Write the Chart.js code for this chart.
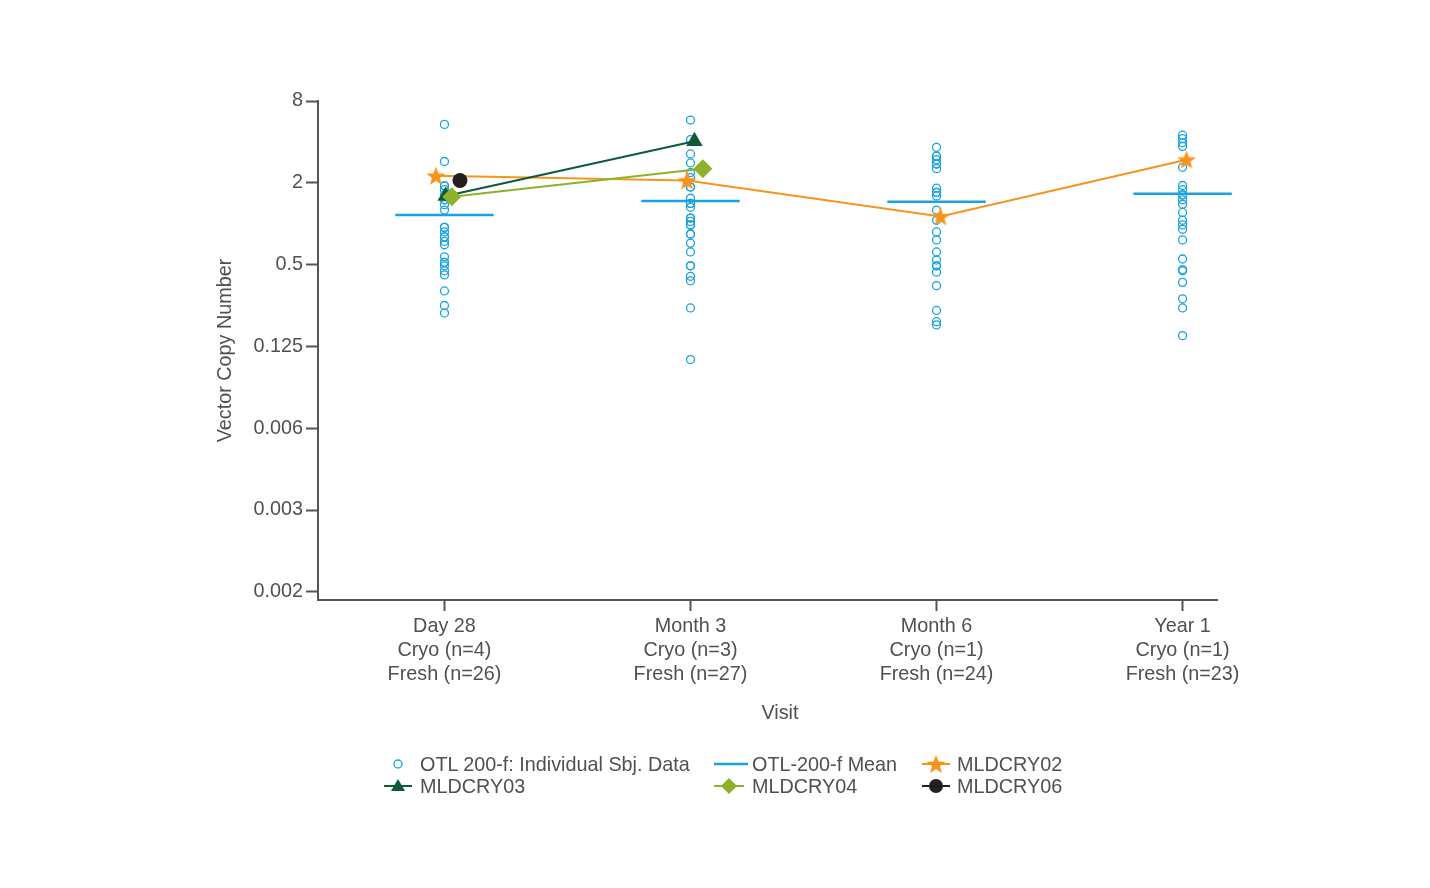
<!DOCTYPE html>
<html><head><meta charset="utf-8">
<script src="https://cdn.jsdelivr.net/npm/chart.js@4.4.1/dist/chart.umd.min.js"></script>
<style>
html,body{margin:0;padding:0;background:#fff;}
#wrap{position:relative;width:1430px;height:888px;}
canvas{position:absolute;left:0;top:0;}
.t{position:absolute;font-family:'Liberation Sans',Arial,sans-serif;font-size:19.8px;color:#505050;line-height:24px;white-space:nowrap;}
svg{position:absolute;left:0;top:0;}
</style></head><body>
<div id="wrap"><canvas id="c" width="1430" height="888"></canvas>
<svg id="leg" width="1430" height="888"></svg>
</div>
<script>
// ---- data ----
const visits = ['Day 28', 'Month 3', 'Month 6', 'Year 1'];
const cryoN = [4, 3, 1, 1];
const freshN = [26, 27, 24, 23];
const yTickLabels = ['8', '2', '0.5', '0.125', '0.006', '0.003', '0.002'];
const yTickLog2 = [3, 1, -1, -3, -5, -7, -9];

const indivDay28 = [5.38, 2.87, 1.90, 1.90, 1.78, 1.63, 1.50, 1.50, 1.38, 1.26, 0.94, 0.94, 0.87, 0.80, 0.80, 0.74, 0.70, 0.57, 0.52, 0.52, 0.49, 0.45, 0.42, 0.32, 0.25, 0.22];
const indivMonth3 = [5.79, 4.16, 3.26, 2.80, 2.38, 2.18, 1.86, 1.86, 1.54, 1.41, 1.41, 1.32, 1.10, 1.10, 1.04, 0.98, 0.98, 0.84, 0.84, 0.72, 0.62, 0.49, 0.49, 0.41, 0.38, 0.24, 0.10];
const indivMonth6 = [3.65, 3.14, 3.14, 2.96, 2.75, 2.75, 2.54, 1.83, 1.70, 1.70, 1.60, 1.26, 1.06, 0.87, 0.76, 0.62, 0.54, 0.49, 0.49, 0.44, 0.35, 0.23, 0.19, 0.18];
const indivYear1 = [4.48, 4.23, 3.94, 3.71, 2.60, 1.91, 1.78, 1.63, 1.63, 1.50, 1.39, 1.21, 1.06, 0.98, 0.91, 0.76, 0.55, 0.46, 0.45, 0.37, 0.28, 0.24, 0.15];
const meanVCN = [1.16, 1.47, 1.45, 1.66];

const mldcry02 = [2.25, 2.08, 1.13, 2.96];
const mldcry03 = [1.60, 4.05, null, null];
const mldcry04 = [1.58, 2.54, null, null];
const mldcry06 = [2.08, null, null, null];

const seriesNames = ['OTL 200-f: Individual Sbj. Data', 'OTL-200-f Mean', 'MLDCRY02', 'MLDCRY03', 'MLDCRY04', 'MLDCRY06'];

// ---- styles ----
const BLUE = '#17a3dd', ORANGE = '#f7941d', DGREEN = '#0b5a38', LGREEN = '#8db12a', BLACK = '#231f20';
const TEXT = '#505050', AXIS = '#555555';
const FONT = "'Liberation Sans', Arial, sans-serif";
const FS = 19.8;
const jit02 = [-0.035, -0.014, 0.016, 0.016];
const jit03 = [0.005, 0.016, 0, 0];
const jit04 = [0.03, 0.05, 0, 0];
const jit06 = [0.063, 0, 0, 0];
const MEAN_HALF = 0.2;

const lg = v => Math.log2(v);
const indiv = [indivDay28, indivMonth3, indivMonth6, indivYear1];
const indivPts = [];
indiv.forEach((arr, i) => arr.forEach(v => indivPts.push({x: i, y: lg(v)})));
const meanPts = [];
meanVCN.forEach((v, i) => { meanPts.push({x: i - MEAN_HALF, y: lg(v)}, {x: i + MEAN_HALF, y: lg(v)}, {x: i + 0.5, y: null}); });
const cryoPts = (arr, jit) => arr.map((v, i) => v == null ? null : {x: i + jit[i], y: lg(v)}).filter(p => p);

function starPath(ctx, cx, cy, R, r) {
  ctx.beginPath();
  for (let k = 0; k < 10; k++) {
    const rad = k % 2 === 0 ? R : r;
    const a = -Math.PI / 2 + k * Math.PI / 5;
    const x = cx + rad * Math.cos(a), y = cy + rad * Math.sin(a);
    k === 0 ? ctx.moveTo(x, y) : ctx.lineTo(x, y);
  }
  ctx.closePath();
}
const starCanvas = document.createElement('canvas');
starCanvas.width = 22; starCanvas.height = 22;
{ const sc = starCanvas.getContext('2d'); sc.fillStyle = ORANGE; starPath(sc, 11, 11.8, 10, 4.2); sc.fill(); }

const tickLabels = visits.map((v, i) => [v, 'Cryo (n=' + cryoN[i] + ')', 'Fresh (n=' + freshN[i] + ')']);

new Chart(document.getElementById('c'), {
  type: 'scatter',
  data: {
    datasets: [
      {label: seriesNames[0], data: indivPts, showLine: false, pointStyle: 'circle', pointRadius: 4, pointBorderWidth: 1.3, pointBorderColor: BLUE, pointBackgroundColor: 'rgba(0,0,0,0)', order: 6},
      {label: seriesNames[1], data: meanPts, showLine: true, spanGaps: false, borderColor: BLUE, borderWidth: 2.5, pointRadius: 0, clip: false, order: 5},
      {label: seriesNames[2], data: cryoPts(mldcry02, jit02), showLine: true, borderColor: ORANGE, borderWidth: 2, pointStyle: starCanvas, pointRadius: 9, order: 4},
      {label: seriesNames[3], data: cryoPts(mldcry03, jit03), showLine: true, borderColor: DGREEN, borderWidth: 2, pointStyle: 'triangle', pointRadius: 9.5, pointBackgroundColor: DGREEN, pointBorderColor: DGREEN, pointBorderWidth: 0, order: 3},
      {label: seriesNames[4], data: cryoPts(mldcry04, jit04), showLine: true, borderColor: LGREEN, borderWidth: 2, pointStyle: 'rectRot', pointRadius: 9.5, pointBackgroundColor: LGREEN, pointBorderColor: LGREEN, pointBorderWidth: 0, order: 2},
      {label: seriesNames[5], data: cryoPts(mldcry06, jit06), showLine: true, borderColor: BLACK, borderWidth: 2, pointStyle: 'circle', pointRadius: 7.5, pointBackgroundColor: BLACK, pointBorderColor: BLACK, pointBorderWidth: 0, order: 1}
    ]
  },
  options: {
    responsive: false, animation: false, events: [],
    layout: {padding: {left: 210, right: 213, top: 101, bottom: 0}},
    plugins: {legend: {display: false}, tooltip: {enabled: false}},
    scales: {
      x: {
        type: 'linear', min: -0.514, max: 3.14,
        afterBuildTicks: s => { s.ticks = visits.map((v, i) => ({value: i})); },
        afterFit: s => { s.height = 288; },
        grid: {display: true, drawOnChartArea: false, drawTicks: true, tickLength: 11, tickColor: AXIS, tickWidth: 2},
        border: {display: true, color: AXIS, width: 2},
        ticks: {color: TEXT, padding: 4, autoSkip: false, maxRotation: 0, font: {family: FONT, size: FS, lineHeight: 1.21},
          callback: (val) => tickLabels[Math.round(val)]}
      },
      y: {
        type: 'linear', min: -9.2, max: 3,
        afterBuildTicks: s => { s.ticks = yTickLog2.map(v => ({value: v})); },
        afterFit: s => { s.width = 108; },
        grid: {display: true, drawOnChartArea: false, drawTicks: true, tickLength: 12, tickColor: AXIS, tickWidth: 2},
        border: {display: true, color: AXIS, width: 2},
        ticks: {color: TEXT, padding: 3, autoSkip: false, font: {family: FONT, size: FS},
          callback: (val) => { const k = yTickLog2.indexOf(val); return k >= 0 ? yTickLabels[k] : ''; }},
        title: {display: true, text: 'Vector Copy Number', color: TEXT, font: {family: FONT, size: FS}, padding: {top: 4, bottom: 4}}
      }
    }
  }
});

// ---- HTML texts: x title and legend ----
const wrap = document.getElementById('wrap');
function addText(txt, left, cy) {
  const d = document.createElement('div'); d.className = 't'; d.textContent = txt;
  d.style.left = left + 'px'; d.style.top = (cy - 12) + 'px'; wrap.appendChild(d); return d;
}
const vt = addText('Visit', 0, 712);
vt.style.left = (780 - vt.offsetWidth / 2) + 'px';

const NS = 'http://www.w3.org/2000/svg';
const svg = document.getElementById('leg');
function el(name, attrs) { const e = document.createElementNS(NS, name); for (const k in attrs) e.setAttribute(k, attrs[k]); svg.appendChild(e); return e; }
function starPts(cx, cy, R, r) { const p = []; for (let k = 0; k < 10; k++) { const rad = k % 2 === 0 ? R : r; const a = -Math.PI / 2 + k * Math.PI / 5; p.push((cx + rad * Math.cos(a)).toFixed(2) + ',' + (cy + rad * Math.sin(a)).toFixed(2)); } return p.join(' '); }

const r1 = 764, r2 = 786;
el('circle', {cx: 398, cy: r1, r: 4, fill: 'none', stroke: BLUE, 'stroke-width': 1.3});
addText(seriesNames[0], 420, r1);
el('line', {x1: 714, y1: r1, x2: 748, y2: r1, stroke: BLUE, 'stroke-width': 2.5});
addText(seriesNames[1], 752, r1);
el('line', {x1: 922, y1: r1, x2: 950, y2: r1, stroke: ORANGE, 'stroke-width': 2});
el('polygon', {points: starPts(936, r1 + 0.8, 10, 4.2), fill: ORANGE});
addText(seriesNames[2], 957, r1);
el('line', {x1: 384, y1: r2, x2: 412, y2: r2, stroke: DGREEN, 'stroke-width': 2});
el('polygon', {points: '398,' + (r2 - 7) + ' 405,' + (r2 + 5) + ' 391,' + (r2 + 5), fill: DGREEN});
addText(seriesNames[3], 420, r2);
el('line', {x1: 714, y1: r2, x2: 744, y2: r2, stroke: LGREEN, 'stroke-width': 2});
el('polygon', {points: '729,' + (r2 - 8) + ' 737,' + r2 + ' 729,' + (r2 + 8) + ' 721,' + r2, fill: LGREEN});
addText(seriesNames[4], 752, r2);
el('line', {x1: 922, y1: r2, x2: 950, y2: r2, stroke: BLACK, 'stroke-width': 2});
el('circle', {cx: 936, cy: r2, r: 7, fill: BLACK});
addText(seriesNames[5], 957, r2);
</script>
</body></html>
